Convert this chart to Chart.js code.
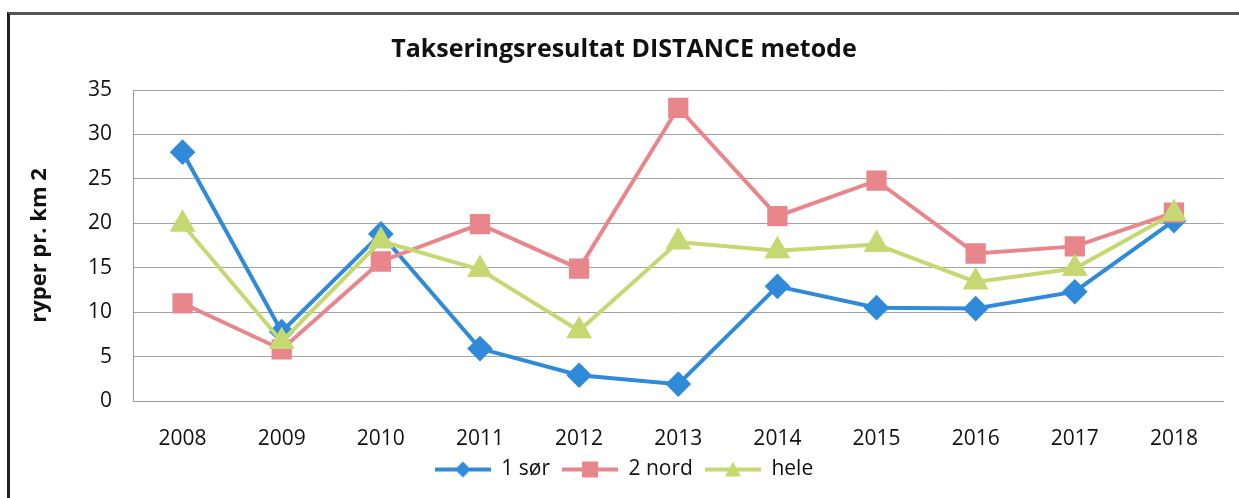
<!DOCTYPE html>
<html>
<head>
<meta charset="utf-8">
<script src="https://cdn.jsdelivr.net/npm/chart.js@4.4.0/dist/chart.umd.min.js"></script>
<style>
  html, body { margin: 0; padding: 0; background: #fff; }
  #wrap { position: relative; width: 1239px; height: 498px; overflow: hidden; }
  #frame { position: absolute; left: 7px; top: 12px; width: 1240px; height: 500px;
           border-left: 3px solid #222; border-top: 3px solid #555; }
  #chart { position: absolute; left: 0; top: 0; }
</style>
</head>
<body>
<div id="wrap">
  <div id="frame"></div>
  <canvas id="chart" width="1239" height="498"></canvas>
</div>
<script>
const years = ["2008", "2009", "2010", "2011", "2012", "2013", "2014", "2015", "2016", "2017", "2018"];
const sor = [28.0, 7.8, 18.8, 5.9, 2.9, 1.9, 12.9, 10.5, 10.4, 12.3, 20.3];
const nord = [11.0, 5.8, 15.7, 19.9, 14.9, 33.0, 20.8, 24.8, 16.6, 17.4, 21.2];
const hele = [19.9, 6.7, 18.0, 14.8, 7.9, 17.9, 16.9, 17.6, 13.4, 14.9, 21.1];

const blue = "#2f8ad9";
const pink = "#e8868b";
const green = "#c5d872";
const FONT = "'Open Sans', sans-serif";

// little line+marker images for the legend
function legendIcon(color, style) {
    const c = document.createElement("canvas");
    c.width = 56; c.height = 22;
    const g = c.getContext("2d");
    g.strokeStyle = color;
    g.lineWidth = 4;
    g.beginPath(); g.moveTo(0, 11); g.lineTo(56, 11); g.stroke();
    g.fillStyle = color;
    g.beginPath();
    if (style === "diamond") {
        g.moveTo(28, 3); g.lineTo(36, 11); g.lineTo(28, 19); g.lineTo(20, 11);
    } else if (style === "square") {
        g.rect(20, 3, 16, 16);
    } else {
        g.moveTo(28, 3); g.lineTo(36, 18); g.lineTo(20, 18);
    }
    g.closePath(); g.fill();
    return c;
}

const icons = [legendIcon(blue, "diamond"), legendIcon(pink, "square"), legendIcon(green, "triangle")];

new Chart(document.getElementById("chart"), {
    type: "line",
    data: {
        labels: years,
        datasets: [
            { label: "1 sør", data: sor, borderColor: blue, backgroundColor: blue,
              pointStyle: "rectRot", pointRadius: 10, borderWidth: 4, order: 2 },
            { label: "2 nord", data: nord, borderColor: pink, backgroundColor: pink,
              pointStyle: "rect", pointRadius: 11.5, borderWidth: 4, order: 1 },
            { label: "hele", data: hele, borderColor: green, backgroundColor: green,
              pointStyle: "triangle", pointRadius: 11, borderWidth: 4, order: 0 }
        ]
    },
    options: {
        responsive: false,
        animation: false,
        layout: { padding: { top: 16, left: 1, right: -8, bottom: 8 } },
        plugins: {
            title: {
                display: true,
                text: "Takseringsresultat DISTANCE metode",
                color: "#111",
                font: { family: FONT, size: 25, weight: "bold" },
                padding: { top: 19, bottom: 25 }
            },
            legend: {
                position: "bottom",
                labels: {
                    usePointStyle: true,
                    pointStyleWidth: 56,
                    color: "#111",
                    font: { family: FONT, size: 21 },
                    padding: 12,
                    generateLabels: chart => chart.data.datasets.map((ds, i) => ({
                        text: ds.label,
                        pointStyle: icons[i],
                        fillStyle: ds.borderColor,
                        strokeStyle: ds.borderColor,
                        lineWidth: 0,
                        fontColor: "#111",
                        datasetIndex: i
                    }))
                }
            },
            tooltip: { enabled: false }
        },
        scales: {
            x: {
                offset: true,
                grid: { display: false, drawTicks: false },
                border: { display: true, color: "#9a9a9a", width: 1 },
                ticks: { color: "#111", font: { family: FONT, size: 21 }, padding: 25 },
                afterFit: s => { s.height = 46; }
            },
            y: {
                min: 0, max: 35,
                ticks: { stepSize: 5, color: "#111", font: { family: FONT, size: 21 }, padding: 21 },
                grid: { color: "#a3a3a3", lineWidth: 1, drawTicks: false },
                border: { display: true, color: "#9a9a9a", width: 1 },
                title: {
                    display: true,
                    text: "ryper pr. km 2",
                    color: "#111",
                    font: { family: FONT, size: 22, weight: "bold" },
                    padding: { top: 26, bottom: 6 }
                },
                afterFit: s => { s.width = 132; }
            }
        }
    }
});
</script>
</body>
</html>
